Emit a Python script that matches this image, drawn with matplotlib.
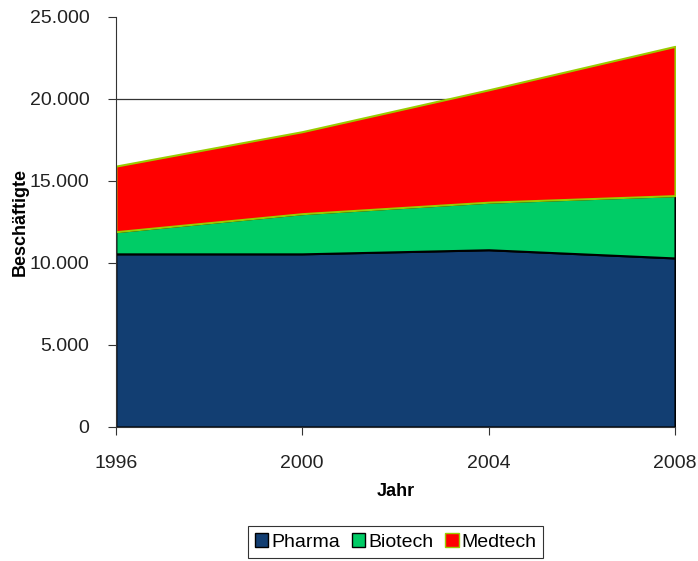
import matplotlib.pyplot as plt
import numpy as np
from matplotlib.ticker import FuncFormatter
from matplotlib.patches import Patch

plt.rcParams['font.family'] = ['Liberation Sans', 'DejaVu Sans']

jahre = [1996, 2000, 2004, 2008]
pharma = [10550, 10550, 10800, 10300]
biotech = [1350, 2450, 2900, 3800]
medtech = [4000, 5000, 6850, 9100]

namen = ['Pharma', 'Biotech', 'Medtech']
farben = ['#123E72', '#00CC66', '#FF0000']
kanten = ['black', 'black', '#99CC00']

fig = plt.figure(figsize=(6.98, 5.61), dpi=100)
ax = fig.add_axes([0.166, 0.239, 0.801, 0.731])

# gridlines sit behind the areas
for y in [5000, 10000, 15000, 20000]:
    ax.axhline(y, color='#333333', lw=0.9, zorder=0)

polys = ax.stackplot(jahre, pharma, biotech, medtech, colors=farben, zorder=2)
for p, k in zip(polys, kanten):
    p.set_edgecolor(k)
    p.set_linewidth(1.5)

ax.set_xlim(1996, 2008)
ax.set_ylim(0, 25000)
ax.set_xticks(jahre)
ax.set_yticks(np.arange(0, 25001, 5000))
ax.yaxis.set_major_formatter(FuncFormatter(lambda v, p: f'{int(v):,}'.replace(',', '.')))

for s in ['top', 'right']:
    ax.spines[s].set_visible(False)
for s in ['left', 'bottom']:
    ax.spines[s].set_color('#333333')
    ax.spines[s].set_zorder(3)
ax.tick_params(axis='both', direction='out', length=6, color='#333333', labelsize=14,
               labelcolor='#222222')
ax.tick_params(axis='y', pad=13)
ax.tick_params(axis='x', pad=14)

ax.set_xlabel('Jahr', fontsize=13, fontweight='bold', labelpad=8)
ax.set_ylabel('Beschäftigte', fontsize=13, fontweight='bold', labelpad=1)

handles = [Patch(facecolor=f, edgecolor=k, label=n) for f, k, n in zip(farben, kanten, namen)]
leg = fig.legend(handles=handles, loc='center', bbox_to_anchor=(0.567, 0.034), ncol=3,
                 fontsize=14, frameon=True, fancybox=False, edgecolor='black',
                 handlelength=0.7, handleheight=0.7, handletextpad=0.15, columnspacing=0.6,
                 borderpad=0.35)
leg.get_frame().set_linewidth(0.8)

fig.savefig('out.png', dpi=100)
